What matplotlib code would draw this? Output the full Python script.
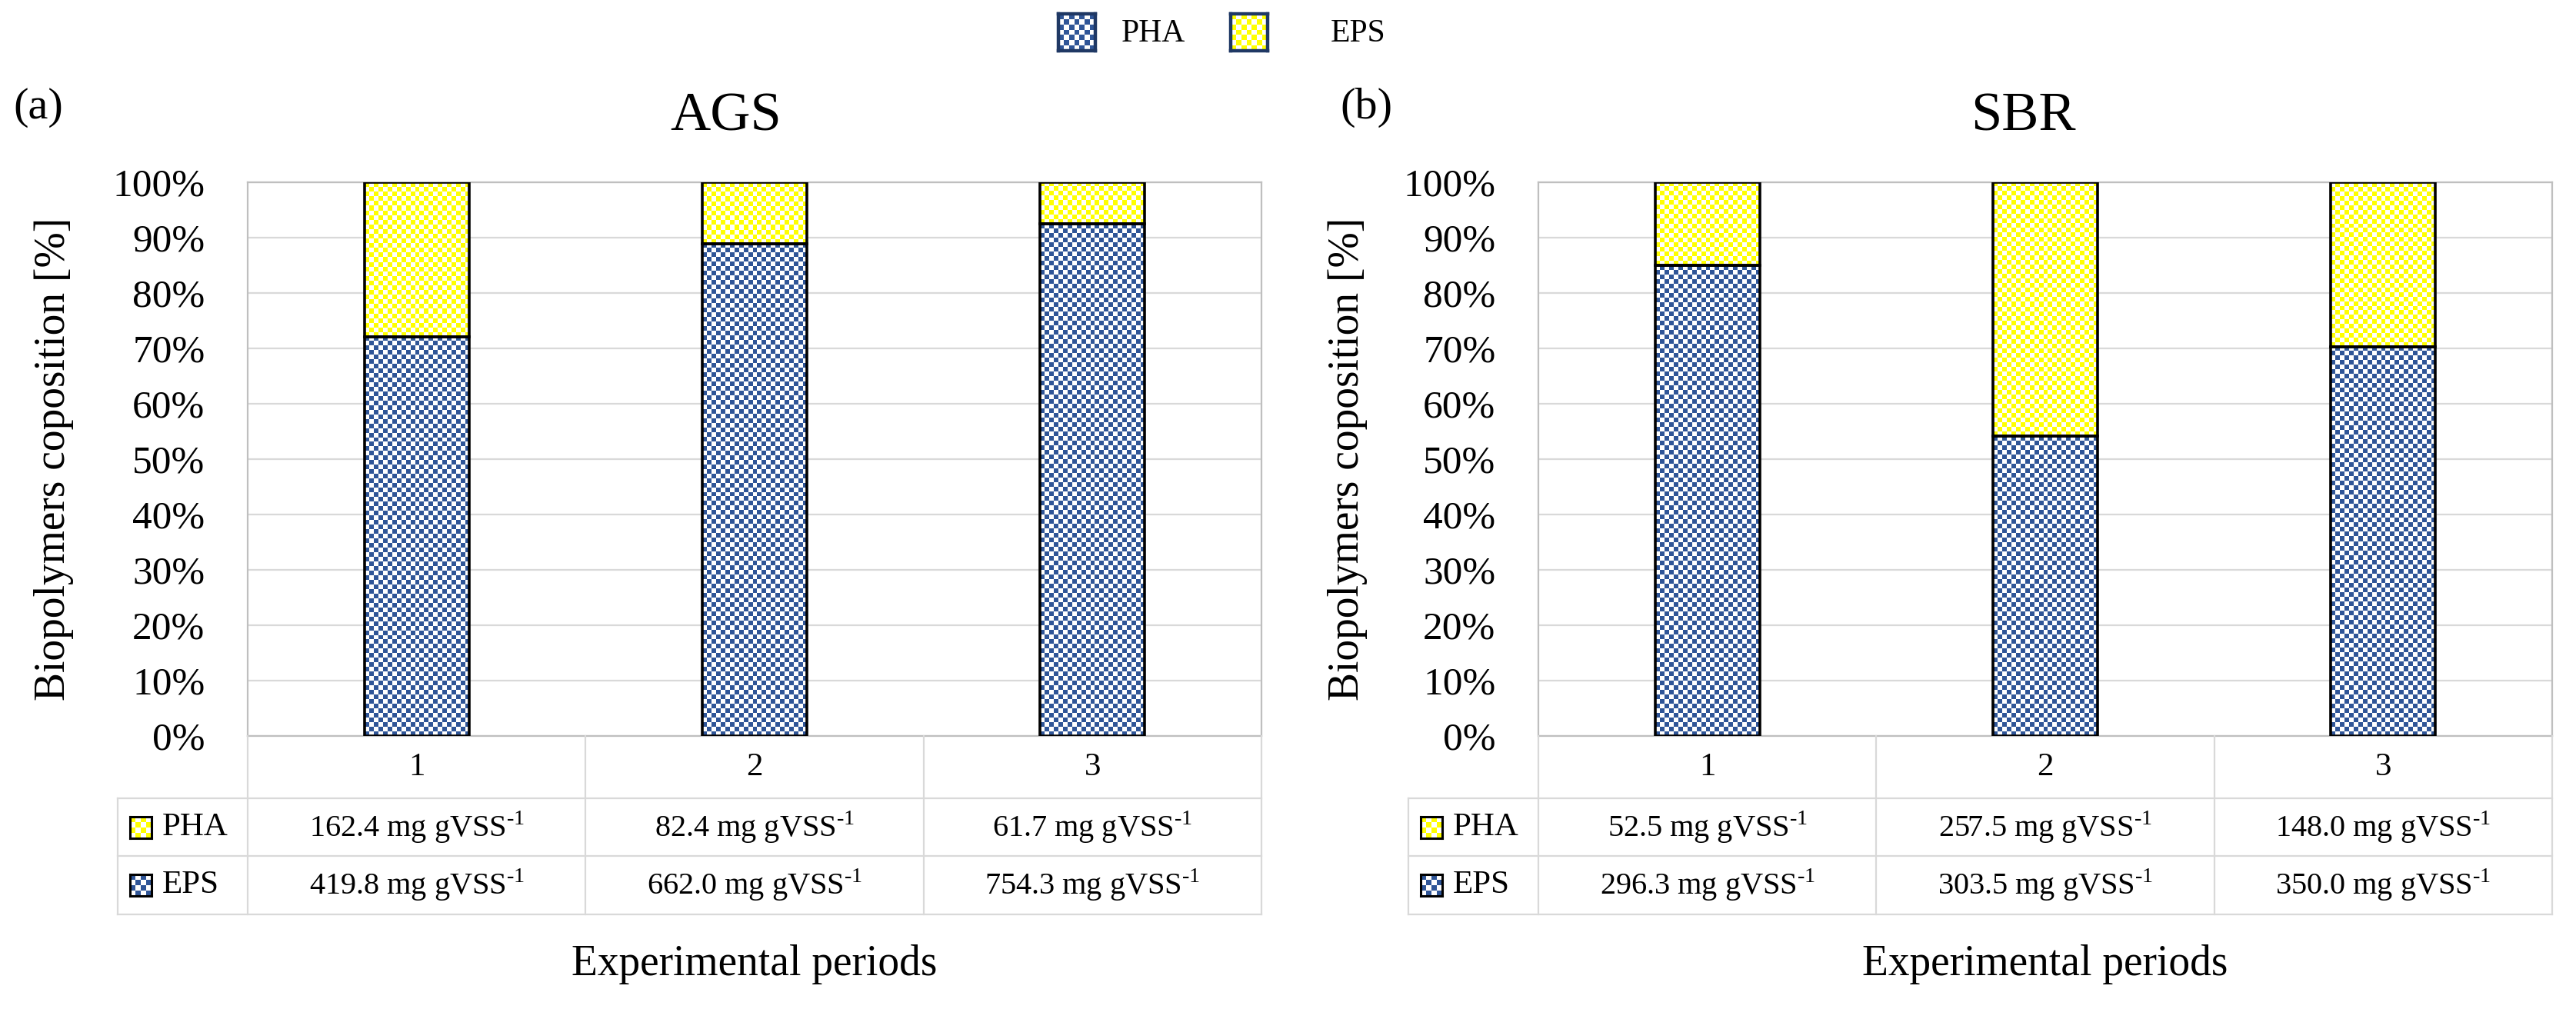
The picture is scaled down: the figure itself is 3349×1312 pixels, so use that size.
import numpy as np
import matplotlib
matplotlib.use("Agg")
import matplotlib.pyplot as plt
from matplotlib.colors import to_rgb
from matplotlib.transforms import Affine2D

plt.rcParams['font.family'] = 'Liberation Serif'
plt.rcParams['mathtext.fontset'] = 'custom'
plt.rcParams['mathtext.rm'] = 'Liberation Serif'

# data
periods = ['1', '2', '3']
panel_names = ['AGS', 'SBR']
panel_letters = ['(a)', '(b)']
pha_ags = [162.4, 82.4, 61.7]
eps_ags = [419.8, 662.0, 754.3]
pha_sbr = [52.5, 257.5, 148.0]
eps_sbr = [296.3, 303.5, 350.0]
yticks = [0, 10, 20, 30, 40, 50, 60, 70, 80, 90, 100]

BLUE = '#2F5597'
YELLOW = '#FFFF00'
GRID = '#D9D9D9'
SPINE = '#BFBFBF'

W, H = 3349, 1312
fig = plt.figure(figsize=(W / 100, H / 100), dpi=100)
# pixel coords, origin top-left
px = Affine2D().scale(1 / W, -1 / H).translate(0, 1) + fig.transFigure


def px_axes(l, t, r, b):
    return fig.add_axes([l / W, 1 - b / H, (r - l) / W, (b - t) / H])


def checker(nx, ny, color):
    ii, jj = np.indices((ny, nx))
    img = np.ones((ny, nx, 3))
    img[(ii + jj) % 2 == 0] = to_rgb(color)
    return img


def fill_bar(ax, bar, color, cell=6):
    x0, y0 = bar.get_x(), bar.get_y()
    w, h = bar.get_width(), bar.get_height()
    p0 = ax.transData.transform((x0, y0))
    p1 = ax.transData.transform((x0 + w, y0 + h))
    nx = max(1, int(round(abs(p1[0] - p0[0]) / cell)))
    ny = max(1, int(round(abs(p1[1] - p0[1]) / cell)))
    im = ax.imshow(checker(nx, ny, color), extent=(x0, x0 + w, y0, y0 + h),
                   origin='lower', interpolation='nearest', aspect='auto', zorder=2)
    im.set_clip_path(bar)


def swatch(l, t, size, color, edge, lw, n):
    sa = px_axes(l, t, l + size, t + size)
    sa.imshow(checker(n, n, color), interpolation='nearest', aspect='auto')
    sa.set_xticks([])
    sa.set_yticks([])
    for s in sa.spines.values():
        s.set_color(edge)
        s.set_linewidth(lw)


def draw_panel(left, right, pha, eps, name, letter, title_x, letter_x, ylab_x):
    top, bottom = 237, 957
    ax = px_axes(left, top, right, bottom)
    x = np.arange(len(periods))
    ax.set_xlim(-0.5, len(periods) - 0.5)
    ax.set_ylim(0, 100)
    pha = np.array(pha)
    eps = np.array(eps)
    eps_pct = eps / (eps + pha) * 100
    pha_pct = pha / (eps + pha) * 100

    bars_eps = ax.bar(x, eps_pct, width=0.31, facecolor='none', edgecolor='black',
                      linewidth=2.6, zorder=3)
    bars_pha = ax.bar(x, pha_pct, bottom=eps_pct, width=0.31, facecolor='none',
                      edgecolor='black', linewidth=2.6, zorder=3)
    for b in bars_eps:
        fill_bar(ax, b, BLUE)
    for b in bars_pha:
        fill_bar(ax, b, YELLOW)

    ax.set_yticks(yticks)
    ax.set_yticklabels([f'{t}%' for t in yticks])
    ax.set_xticks([])
    ax.tick_params(axis='y', length=0, pad=40, labelsize=37)
    ax.grid(axis='y', color=GRID, linewidth=1.6)
    ax.set_axisbelow(True)
    for s in ax.spines.values():
        s.set_color(SPINE)
        s.set_linewidth(1.6)

    fig.text(ylab_x, (top + bottom) / 2, 'Biopolymers coposition [%]', transform=px,
             rotation=90, ha='center', va='center', fontsize=40)
    fig.text(title_x, 152, name, transform=px, ha='center', va='center', fontsize=52)
    fig.text(letter_x, 140, letter, transform=px, ha='left', va='center', fontsize=42)

    # data table under the chart
    rows = [957, 1038, 1113, 1189]
    tleft = left - 169
    xb = [ax.transData.transform((v, 0))[0] for v in np.arange(len(periods) + 1) - 0.5]
    xc = [ax.transData.transform((v, 0))[0] for v in x]
    for xv in xb:
        fig.add_artist(plt.Line2D([xv, xv], [rows[0], rows[-1]], transform=px,
                                  color=GRID, linewidth=1.6))
    fig.add_artist(plt.Line2D([tleft, tleft], [rows[1], rows[-1]], transform=px,
                              color=GRID, linewidth=1.6))
    for yv in rows[1:]:
        fig.add_artist(plt.Line2D([tleft, right], [yv, yv], transform=px,
                                  color=GRID, linewidth=1.6))
    for c, p in zip(xc, periods):
        fig.text(c, (rows[0] + rows[1]) / 2, p, transform=px, ha='center',
                 va='center', fontsize=31)
    for r, (lab, vals, col) in enumerate([('PHA', pha, YELLOW), ('EPS', eps, BLUE)]):
        yc = (rows[r + 1] + rows[r + 2]) / 2
        swatch(tleft + 16, yc - 14, 28, col, 'black', 2.2, 4)
        fig.text(tleft + 58, yc, lab, transform=px, ha='left', va='center', fontsize=31)
        for c, v in zip(xc, vals):
            fig.text(c, yc, f'{v:.1f} mg gVSS$^{{\\mathregular{{\u20101}}}}$',
                     transform=px, ha='center', va='center', fontsize=29)

    fig.text((left + right) / 2, 1254, 'Experimental periods', transform=px,
             ha='center', va='center', fontsize=40)
    return ax


draw_panel(322, 1640, pha_ags, eps_ags, panel_names[0], panel_letters[0], 944, 17, 70)
draw_panel(2000, 3318, pha_sbr, eps_sbr, panel_names[1], panel_letters[1], 2630, 1742, 1752)

# legend on top (labels as in the original figure)
swatch(1376, 18, 48, BLUE, '#1F3864', 3.2, 7)
fig.text(1458, 44, 'PHA', transform=px, ha='left', va='center', fontsize=30)
swatch(1600, 18, 48, YELLOW, '#1F3864', 3.2, 7)
fig.text(1730, 44, 'EPS', transform=px, ha='left', va='center', fontsize=30)

fig.savefig('out.png', dpi=100)
